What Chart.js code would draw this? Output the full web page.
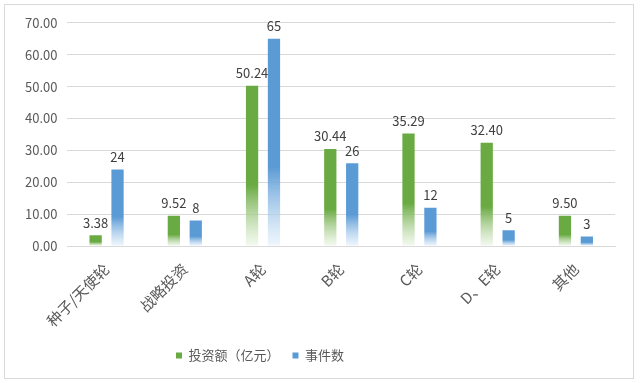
<!DOCTYPE html>
<html>
<head>
<meta charset="utf-8">
<script src="https://cdn.jsdelivr.net/npm/chart.js@4"></script>
<style>
  html, body { margin: 0; padding: 0; background: #ffffff; }
  #wrap { position: absolute; left: 4px; top: 4px; width: 628px; height: 373px; border: 1px solid #d9d9d9; background: #fff; }
  canvas { display: block; }
</style>
</head>
<body>
<div id="wrap"><canvas id="c" width="628" height="373"></canvas></div>
<script>
const categories = ['种子/天使轮', '战略投资', 'A轮', 'B轮', 'C轮', 'D、E轮', '其他'];
const investAmount = [3.38, 9.52, 50.24, 30.44, 35.29, 32.40, 9.50];
const eventCount = [24, 8, 65, 26, 12, 5, 3];
const seriesNames = ['投资额（亿元）', '事件数'];
const yTicks = [0, 10, 20, 30, 40, 50, 60, 70];

const GREEN = '#6aaa42';
const BLUE = '#5b9bd5';
const FONT = "'Noto Sans CJK SC', 'Noto Sans', sans-serif";

function gradFill(color, fadeColor) {
  return function(ctx) {
    const chart = ctx.chart;
    const area = chart.chartArea;
    if (!area || ctx.type !== 'data') return color;
    const y = chart.scales.y;
    const v = ctx.raw;
    const top = y.getPixelForValue(v);
    const bottom = y.getPixelForValue(0);
    if (bottom - top < 2) return color;
    const g = chart.ctx.createLinearGradient(0, top, 0, bottom);
    g.addColorStop(0, color);
    g.addColorStop(0.62, color);
    g.addColorStop(1, fadeColor);
    return g;
  };
}

const labelPlugin = {
  id: 'valueLabels',
  beforeDraw(chart) {
    const lg = chart.legend;
    if (lg && !lg._shifted) {
      lg.left -= 55;
      lg.right -= 55;
      lg._shifted = true;
    }
  },
  afterDatasetsDraw(chart) {
    const c = chart.ctx;
    c.save();
    c.font = "13px " + FONT;
    c.fillStyle = '#404040';
    c.textAlign = 'center';
    c.textBaseline = 'bottom';
    chart.data.datasets.forEach((ds, di) => {
      const meta = chart.getDatasetMeta(di);
      meta.data.forEach((bar, i) => {
        const v = ds.data[i];
        const txt = di === 0 ? v.toFixed(2) : String(v);
        c.fillText(txt, bar.x, bar.y - 6);
      });
    });
    c.restore();
  }
};

new Chart(document.getElementById('c'), {
  type: 'bar',
  data: {
    labels: categories,
    datasets: [
      { label: seriesNames[0], data: investAmount, backgroundColor: gradFill(GREEN, 'rgba(235,245,228,0.6)'),
        categoryPercentage: 0.56, barPercentage: 0.56 },
      { label: seriesNames[1], data: eventCount, backgroundColor: gradFill(BLUE, 'rgba(228,240,252,0.6)'),
        categoryPercentage: 0.56, barPercentage: 0.56 }
    ]
  },
  options: {
    responsive: false,
    animation: false,
    layout: { padding: { left: 10, right: 18, top: 13, bottom: 6 } },
    plugins: {
      legend: {
        position: 'bottom',
        labels: {
          font: { size: 13, family: FONT },
          color: '#595959',
          boxWidth: 6,
          boxHeight: 6,
          padding: 13,
          generateLabels(chart) {
            return chart.data.datasets.map((ds, i) => ({
              text: ds.label,
              fillStyle: i === 0 ? GREEN : BLUE,
              strokeStyle: 'rgba(0,0,0,0)',
              lineWidth: 0,
              fontColor: '#595959',
              datasetIndex: i,
              hidden: false
            }));
          }
        }
      },
      tooltip: { enabled: false }
    },
    scales: {
      x: {
        grid: { display: false },
        border: { display: true, color: '#d9d9d9' },
        ticks: {
          font: { size: 15, family: FONT },
          color: '#595959',
          minRotation: 45,
          maxRotation: 45,
          padding: 6
        }
      },
      y: {
        min: 0,
        max: 70,
        afterBuildTicks(scale) { scale.ticks = yTicks.map(v => ({ value: v })); },
        grid: { color: '#d9d9d9', drawTicks: false },
        border: { display: false },
        ticks: {
          font: { size: 13, family: FONT },
          color: '#595959',
          padding: 10,
          callback: v => Number(v).toFixed(2)
        }
      }
    }
  },
  plugins: [labelPlugin]
});
</script>
</body>
</html>
